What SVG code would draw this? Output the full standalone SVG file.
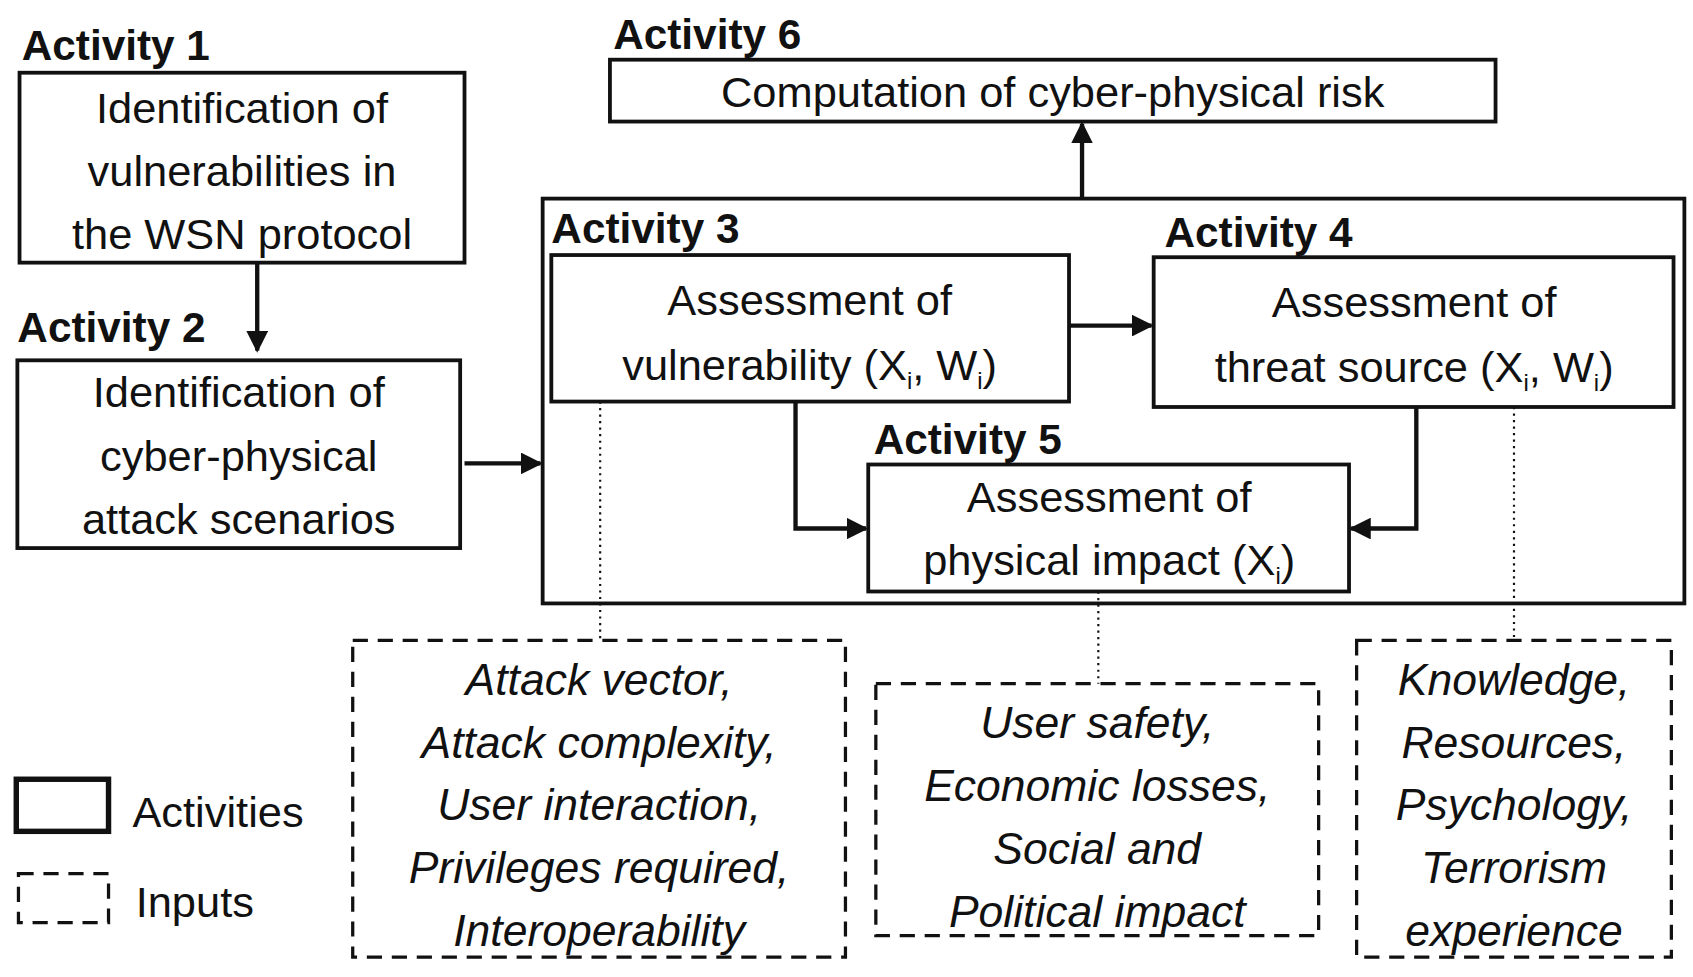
<svg xmlns="http://www.w3.org/2000/svg" width="1693" height="977" viewBox="0 0 1693 977">
<style>
.b{fill:#fff;stroke:#111;stroke-width:3.5}
.d{fill:none;stroke:#111;stroke-width:3;stroke-dasharray:14 9}
.t{font-family:"Liberation Sans",Arial,sans-serif;font-size:40px;fill:#111;text-anchor:middle}
.i{font-family:"Liberation Sans",Arial,sans-serif;font-size:41px;fill:#111;text-anchor:middle;font-style:italic}
.l{font-family:"Liberation Sans",Arial,sans-serif;font-size:39px;font-weight:bold;fill:#111}
.c{fill:none;stroke:#111;stroke-width:4}
.o{fill:none;stroke:#111;stroke-width:2;stroke-dasharray:2 4}
</style>
<defs><marker id="a" viewBox="0 0 10 10" refX="9" refY="5" markerWidth="5" markerHeight="5" orient="auto"><path d="M0,0L10,5L0,10z" fill="#111"/></marker></defs>
<rect width="1693" height="977" fill="#fff"/>
<g transform="scale(1.0853)">
<g id="container"><rect class="b" x="500" y="183" width="1052" height="373"/></g>
<g id="act1"><text class="l" x="20" y="55">Activity 1</text><rect class="b" x="18" y="67" width="410" height="175"/>
<text class="t" x="223" y="113">Identification of</text><text class="t" x="223" y="171">vulnerabilities in</text><text class="t" x="223" y="229">the WSN protocol</text></g>
<g id="act2"><text class="l" x="16" y="315">Activity 2</text><rect class="b" x="16" y="332" width="408" height="173"/>
<text class="t" x="220" y="375">Identification of</text><text class="t" x="220" y="434">cyber-physical</text><text class="t" x="220" y="492">attack scenarios</text></g>
<g id="act6"><text class="l" x="565" y="45">Activity 6</text><rect class="b" x="562" y="55" width="816" height="57"/>
<text class="t" x="970" y="99">Computation of cyber-physical risk</text></g>
<g id="act3"><text class="l" x="508" y="224">Activity 3</text><rect class="b" x="508" y="235" width="477" height="135"/>
<text class="t" x="746" y="290">Assessment of</text><text class="t" x="746" y="350">vulnerability (X<tspan font-size="22" dy="8">i</tspan><tspan dy="-8">, W</tspan><tspan font-size="22" dy="8">i</tspan><tspan dy="-8">)</tspan></text></g>
<g id="act4"><text class="l" x="1073" y="228">Activity 4</text><rect class="b" x="1063" y="237" width="479" height="138"/>
<text class="t" x="1303" y="292">Assessment of</text><text class="t" x="1303" y="352">threat source (X<tspan font-size="22" dy="8">i</tspan><tspan dy="-8">, W</tspan><tspan font-size="22" dy="8">i</tspan><tspan dy="-8">)</tspan></text></g>
<g id="act5"><text class="l" x="805" y="418">Activity 5</text><rect class="b" x="800" y="428" width="443" height="117"/>
<text class="t" x="1022" y="472">Assessment of</text><text class="t" x="1022" y="530">physical impact (X<tspan font-size="22" dy="8">i</tspan><tspan dy="-8">)</tspan></text></g>
<g id="inA"><rect class="d" x="325" y="590" width="454" height="292"/>
<text class="i" x="552" y="640">Attack vector,</text><text class="i" x="552" y="698">Attack complexity,</text><text class="i" x="552" y="756">User interaction,</text><text class="i" x="552" y="814">Privileges required,</text><text class="i" x="552" y="872">Interoperability</text></g>
<g id="inB"><rect class="d" x="807" y="630" width="408" height="232"/>
<text class="i" x="1011" y="680">User safety,</text><text class="i" x="1011" y="738">Economic losses,</text><text class="i" x="1011" y="796">Social and</text><text class="i" x="1011" y="854">Political impact</text></g>
<g id="inC"><rect class="d" x="1250" y="590" width="290" height="292"/>
<text class="i" x="1395" y="640">Knowledge,</text><text class="i" x="1395" y="698">Resources,</text><text class="i" x="1395" y="756">Psychology,</text><text class="i" x="1395" y="814">Terrorism</text><text class="i" x="1395" y="872">experience</text></g>
<g id="legend"><rect x="15" y="718" width="85" height="48" fill="none" stroke="#111" stroke-width="5"/><text class="t" x="122" y="762" font-size="43" style="text-anchor:start">Activities</text>
<rect class="d" x="17" y="805" width="83" height="45"/><text class="t" x="125" y="845" font-size="43" style="text-anchor:start">Inputs</text></g>
<g id="connectors">
<path class="c" d="M237,242V323" marker-end="url(#a)"/>
<path class="c" d="M428,427H498" marker-end="url(#a)"/>
<path class="c" d="M997,183V114" marker-end="url(#a)"/>
<path class="c" d="M985,300H1061" marker-end="url(#a)"/>
<path class="c" d="M733,370V487H798" marker-end="url(#a)"/>
<path class="c" d="M1305,375V487H1245" marker-end="url(#a)"/>
<path class="o" d="M553,370V590M1012,545V630M1395,375V590"/>
</g>
</g>
</svg>
